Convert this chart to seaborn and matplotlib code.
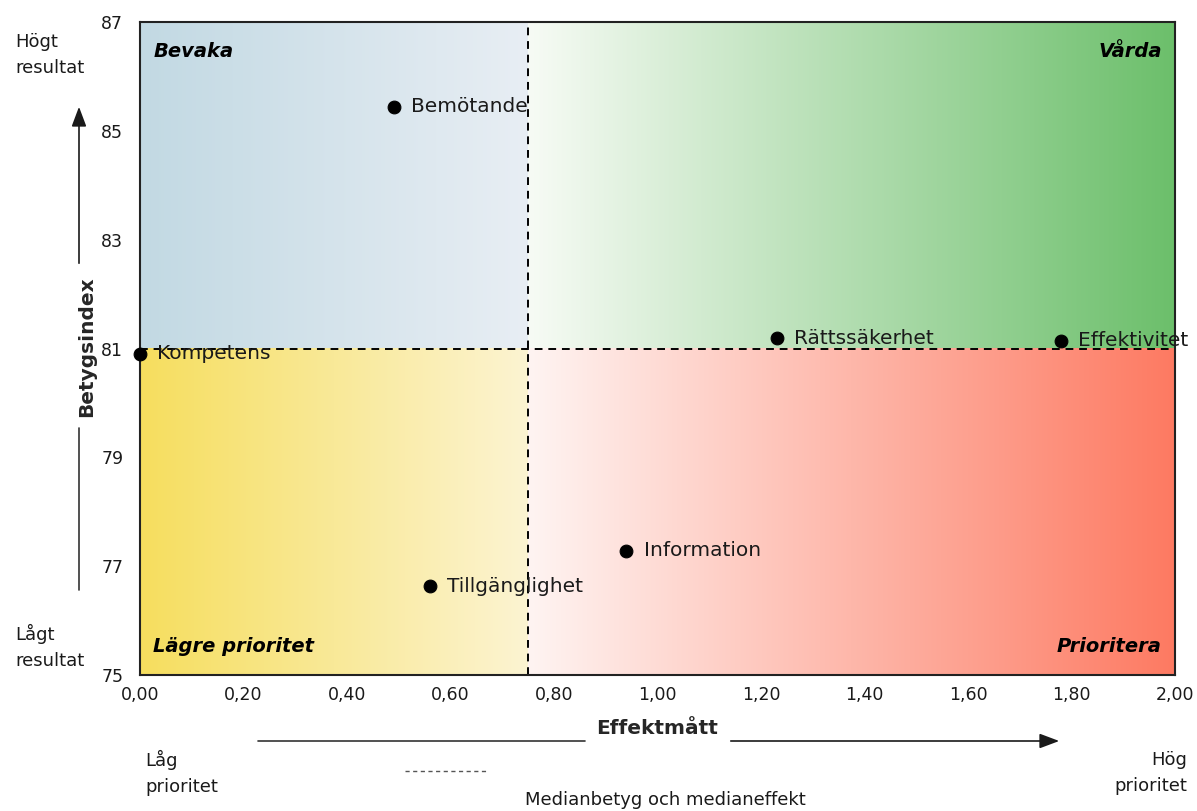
import numpy as np
import pandas as pd
import matplotlib.pyplot as plt
import seaborn as sns
from matplotlib.colors import LinearSegmentedColormap
from matplotlib.ticker import FuncFormatter

# data
omraden = ["Bemötande", "Kompetens", "Rättssäkerhet", "Effektivitet", "Information", "Tillgänglighet"]
effekt = [0.49, 0.0, 1.23, 1.78, 0.94, 0.56]
betyg = [85.44, 80.90, 81.19, 81.14, 77.28, 76.63]
median_effekt = 0.75
median_betyg = 81.0

df = pd.DataFrame({"omrade": omraden, "effekt": effekt, "betyg": betyg})

sns.set_style("white")
plt.rcParams['font.family'] = ['DejaVu Sans']

fig = plt.figure(figsize=(11.97, 8.11), dpi=100)
ax = fig.add_axes([140/1197, 1-675/811, 1035/1197, 653/811])

xmin, xmax, ymin, ymax = 0, 2, 75, 87

# gradient quadrants (horizontal gradients)
grad = np.linspace(0, 1, 256).reshape(1, -1)
kvadranter = [
    ((xmin, median_effekt, median_betyg, ymax), ["#c2d9e3", "#e8eef4"]),   # Bevaka
    ((median_effekt, xmax, median_betyg, ymax), ["#f7fbf5", "#6cbf6b"]),   # Vårda
    ((xmin, median_effekt, ymin, median_betyg), ["#f6de5e", "#fcf4d2"]),   # Lägre prioritet
    ((median_effekt, xmax, ymin, median_betyg), ["#fff4f2", "#fd7a62"]),   # Prioritera
]
for ext, cols in kvadranter:
    cmap = LinearSegmentedColormap.from_list("g", cols)
    ax.imshow(grad, cmap=cmap, extent=ext, aspect="auto", zorder=0, interpolation="bilinear")

ax.axvline(median_effekt, color="black", ls=(0, (4, 3)), lw=1.4, zorder=2)
ax.axhline(median_betyg, color="black", ls=(0, (4, 3)), lw=1.4, zorder=2)

sns.scatterplot(data=df, x="effekt", y="betyg", ax=ax, color="black", s=85,
                edgecolor="black", zorder=4, legend=False, clip_on=False)
for _, r in df.iterrows():
    ax.text(r["effekt"] + 0.033, r["betyg"], r["omrade"], fontsize=14.5,
            color="#1a1a1a", va="center", ha="left", zorder=5)

ax.set_xlim(xmin, xmax)
ax.set_ylim(ymin, ymax)
ax.set_xticks(np.arange(0, 2.01, 0.2))
ax.set_yticks(np.arange(75, 88, 2))
ax.xaxis.set_major_formatter(FuncFormatter(lambda v, p: f"{v:.2f}".replace(".", ",")))
ax.tick_params(axis="both", length=0, labelsize=12.5, colors="#1a1a1a")
ax.tick_params(axis="x", pad=8)
ax.tick_params(axis="y", pad=12)
ax.set_xlabel("")
ax.set_ylabel("")
for s in ax.spines.values():
    s.set_visible(True)
    s.set_color("#222222")
    s.set_linewidth(1.5)

# quadrant labels
qfont = dict(fontsize=14, fontweight="bold", fontstyle="italic", color="black", zorder=5)
ax.text(0.013, 0.955, "Bevaka", transform=ax.transAxes, ha="left", va="center", **qfont)
ax.text(0.987, 0.955, "Vårda", transform=ax.transAxes, ha="right", va="center", **qfont)
ax.text(0.013, 0.043, "Lägre prioritet", transform=ax.transAxes, ha="left", va="center", **qfont)
ax.text(0.987, 0.043, "Prioritera", transform=ax.transAxes, ha="right", va="center", **qfont)

W, H = 1197, 811
def fp(x, y):
    return (x / W, 1 - y / H)

# axis titles
fig.text(*fp(657, 729), "Effektmått", ha="center", va="center", fontsize=14.5, fontweight="bold")
fig.text(*fp(87, 347), "Betygsindex", ha="center", va="center", fontsize=14.5, fontweight="bold", rotation=90)

# horizontal arrow
arrow_col = "#333333"
fig.add_artist(plt.Line2D([258/W, 585/W], [1-741/H, 1-741/H], color=arrow_col, lw=1.2))
ax.annotate("", xy=fp(1062, 741), xytext=fp(728, 741), xycoords="figure fraction",
            textcoords="figure fraction",
            arrowprops=dict(arrowstyle="-|>,head_length=1.2,head_width=0.45", color="#1a1a1a", lw=1.2))
# vertical arrow
fig.add_artist(plt.Line2D([79/W, 79/W], [1-590/H, 1-428/H], color=arrow_col, lw=1.2))
ax.annotate("", xy=fp(79, 104), xytext=fp(79, 266), xycoords="figure fraction",
            textcoords="figure fraction",
            arrowprops=dict(arrowstyle="-|>,head_length=1.2,head_width=0.45", color="#1a1a1a", lw=1.2))

side = dict(fontsize=13, color="#1a1a1a", linespacing=1.55)
fig.text(*fp(15, 55), "Högt\nresultat", ha="left", va="center", **side)
fig.text(*fp(15, 647), "Lågt\nresultat", ha="left", va="center", **side)
fig.text(*fp(145, 773), "Låg\nprioritet", ha="left", va="center", **side)
fig.text(*fp(1187, 773), "Hög\nprioritet", ha="right", va="center", **side)

# legend
fig.add_artist(plt.Line2D([405/W, 487/W], [1-771/H, 1-771/H], color="#555555", lw=1.0, ls=(0, (3, 2.5))))
fig.text(*fp(525, 800), "Medianbetyg och medianeffekt", ha="left", va="center", fontsize=13, color="#1a1a1a")

fig.savefig("out.png", dpi=100)
